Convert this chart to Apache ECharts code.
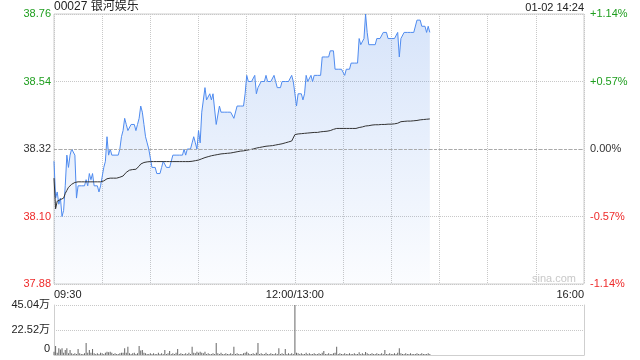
<!DOCTYPE html>
<html><head><meta charset="utf-8">
<script src="https://cdn.jsdelivr.net/npm/echarts@6/dist/echarts.min.js"></script>
<style>html,body{margin:0;padding:0;background:#fff}#c{width:640px;height:360px}</style>
</head><body><div id="c"></div>
<script>
const titleText = '00027 银河娱乐';
const timeStamp = '01-02 14:24';
const prevClose = 38.32;
const axisBase = 37.88;
const leftTicks = ['37.88', '38.10', '38.32', '38.54', '38.76'];
const rightTicks = ['-1.14%', '-0.57%', '0.00%', '+0.57%', '+1.14%'];
const volTicks = ['0', '22.52万', '45.04万'];
const volMax = 45.04; // 万股
const xTickLabels = { 0: '09:30', 150: '12:00/13:00', 330: '16:00' };
const totalMinutes = 330;

// price per minute from 09:30 (index 0) to 14:24 (index 234)
const price = [
38.28,38.16,38.18,38.14,38.16,38.10,38.12,38.20,38.30,38.26,
38.30,38.32,38.32,38.30,38.16,38.20,38.20,38.20,38.20,38.20,
38.22,38.20,38.24,38.22,38.24,38.20,38.20,38.20,38.18,38.20,
38.20,38.26,38.28,38.36,38.30,38.32,38.30,38.30,38.30,38.30,
38.30,38.32,38.36,38.38,38.42,38.40,38.38,38.38,38.40,38.40,
38.40,38.38,38.40,38.42,38.46,38.44,38.40,38.36,38.34,38.32,
38.32,38.26,38.26,38.26,38.24,38.24,38.24,38.26,38.28,38.28,
38.26,38.26,38.26,38.28,38.30,38.30,38.30,38.30,38.30,38.30,
38.30,38.32,38.30,38.32,38.32,38.32,38.34,38.36,38.34,38.32,
38.38,38.34,38.44,38.44,38.52,38.48,38.48,38.50,38.48,38.50,
38.50,38.40,38.40,38.46,38.44,38.44,38.44,38.44,38.44,38.44,
38.44,38.44,38.42,38.42,38.46,38.46,38.46,38.46,38.46,38.50,
38.56,38.54,38.54,38.54,38.54,38.56,38.50,38.52,38.52,38.54,
38.54,38.54,38.56,38.54,38.54,38.54,38.54,38.56,38.54,38.52,
38.52,38.52,38.54,38.54,38.54,38.54,38.54,38.54,38.56,38.54,
38.50,38.46,38.50,38.50,38.50,38.48,38.50,38.56,38.54,38.54,
38.56,38.54,38.56,38.56,38.56,38.56,38.56,38.62,38.62,38.62,
38.62,38.62,38.64,38.64,38.64,38.58,38.58,38.58,38.58,38.58,
38.58,38.56,38.58,38.58,38.58,38.60,38.60,38.60,38.60,38.60,
38.68,38.66,38.66,38.68,38.76,38.70,38.66,38.66,38.66,38.66,
38.66,38.68,38.68,38.68,38.68,38.70,38.70,38.70,38.68,38.68,
38.68,38.68,38.68,38.68,38.70,38.62,38.68,38.68,38.70,38.70,
38.70,38.70,38.70,38.70,38.70,38.70,38.74,38.74,38.74,38.72,
38.72,38.72,38.70,38.72,38.70
];

const avgPrice = [
38.225,38.125,38.150,38.155,38.155,38.155,38.160,38.175,38.185,38.195,
38.200,38.205,38.210,38.211,38.213,38.213,38.213,38.213,38.213,38.213,
38.213,38.213,38.213,38.213,38.213,38.213,38.213,38.213,38.213,38.213,
38.213,38.216,38.220,38.223,38.225,38.225,38.225,38.225,38.225,38.225,
38.225,38.228,38.230,38.232,38.238,38.244,38.249,38.251,38.252,38.253,
38.253,38.254,38.258,38.264,38.271,38.275,38.276,38.277,38.278,38.278,
38.279,38.279,38.279,38.279,38.279,38.279,38.279,38.279,38.279,38.279,
38.279,38.279,38.279,38.279,38.279,38.279,38.279,38.279,38.279,38.279,
38.279,38.279,38.279,38.279,38.279,38.279,38.280,38.281,38.282,38.283,
38.284,38.286,38.288,38.290,38.292,38.294,38.295,38.296,38.298,38.299,
38.300,38.301,38.302,38.303,38.304,38.304,38.305,38.305,38.306,38.306,
38.307,38.308,38.309,38.310,38.311,38.312,38.313,38.313,38.314,38.315,
38.316,38.317,38.318,38.319,38.320,38.322,38.323,38.324,38.325,38.326,
38.327,38.328,38.329,38.329,38.330,38.330,38.331,38.332,38.333,38.334,
38.335,38.336,38.337,38.338,38.340,38.341,38.343,38.345,38.346,38.347,
38.367,38.368,38.369,38.369,38.370,38.370,38.371,38.371,38.372,38.373,
38.373,38.373,38.374,38.374,38.374,38.375,38.376,38.377,38.377,38.378,
38.378,38.379,38.380,38.381,38.384,38.387,38.387,38.387,38.387,38.387,
38.387,38.387,38.387,38.387,38.387,38.387,38.387,38.387,38.387,38.388,
38.390,38.391,38.392,38.393,38.395,38.396,38.396,38.397,38.398,38.398,
38.399,38.399,38.399,38.400,38.400,38.400,38.400,38.400,38.401,38.401,
38.401,38.401,38.402,38.402,38.404,38.407,38.409,38.410,38.410,38.411,
38.411,38.411,38.411,38.412,38.412,38.412,38.413,38.414,38.415,38.415,
38.416,38.417,38.417,38.418,38.418
];

// volume per minute, in 万股
const volume = [
3,8,2,6,5,6,2,4.5,6,1.5,
4.5,1.5,1,1.5,1,5.4,1.5,1,1,1.5,
10.8,2,4.5,2,5.4,1.5,1,1.5,1,2,
1.5,1,2,3,2.5,3,2,1,1.5,1,
1,1.5,2,2,6,2,7.5,1.5,1,1.5,
2,1,1.5,8,4,4.5,2,1.5,1,1,
1.5,1,1.5,1,1,2,1,1.5,1,4.5,
1,1.5,3.6,1,1.5,1,2,5.4,1,1.5,
1,1,1.5,1,2,1,7.5,2,1.5,3,
2,3,2,1.5,3,1,1.5,1,1,1.5,
1,10.8,1.5,1,2,1,1,1.5,1,1,
1.5,1,7.5,1,1.5,1,1,1,1.5,2,
3,1.5,1,1,1.5,1,2,10.8,1,1.5,
1,1,2,1,1,1.5,1,1,1.5,1,
6,1,1.5,1,5.4,1,1.5,1,1.5,1,
45.04,2,1.5,1,1.5,1,1,2,1,1.5,
1,1,1.5,1,1,1.5,1,2,3.6,1,
1,1.5,1,1,1.5,2,7.5,1,1.5,1,
1,1.5,1,1,1.5,1,1,1.5,1,1,
2.5,1,1.5,1,2.7,1.5,1,1,1.5,1,
1,1.5,1,1,1.5,1,4.5,1,1,1.5,
1,1,1.5,1,2,6,1.5,1,1,1.5,
1,1,1.5,1,1,1,1.5,1,1,1.5,
1,1,1,1.5,1
];

const upColor = '#1e9e1e', downColor = '#ee2a2a', flatColor = '#333';
const baseFont = 'Arial, "Liberation Sans", "Noto Sans CJK SC", sans-serif';
const toY = p => (p - axisBase) * 100;
const yMax = 88, yStep = 22;
const tickColor = v => {
  const i = Math.round(v / yStep);
  return i > 2 ? upColor : (i < 2 ? downColor : flatColor);
};

const chart = echarts.init(document.getElementById('c'), null, { renderer: 'canvas' });
chart.setOption({
  animation: false,
  backgroundColor: '#fff',
  textStyle: { fontFamily: baseFont },
  title: [
    { text: titleText, left: 54, top: 1, padding: 0,
      textStyle: { fontSize: 12, fontWeight: 'normal', color: '#222', fontFamily: baseFont } },
    { text: timeStamp, right: 56, top: 2, padding: 0,
      textStyle: { fontSize: 11, fontWeight: 'normal', color: '#222', fontFamily: baseFont } }
  ],
  graphic: [
    { type: 'text', left: 532, top: 273, silent: true,
      style: { text: 'sina.com', fill: '#c8c8c8', font: '11px ' + baseFont } }
  ],
  grid: [
    { left: 54, top: 14, width: 530, height: 270, show: true, borderColor: '#cfcfcf', borderWidth: 1, backgroundColor: 'transparent' },
    { left: 54, top: 305, width: 530, height: 50, show: false }
  ],
  xAxis: [
    { type: 'value', gridIndex: 0, min: 0, max: totalMinutes, interval: 30,
      axisLine: { show: false }, axisTick: { show: false },
      splitLine: { show: true, lineStyle: { type: 'dotted', color: '#c8c8c8' } },
      axisLabel: { formatter: v => xTickLabels[v] || '', color: '#222', fontSize: 11, margin: 5,
        showMinLabel: true, showMaxLabel: true, alignMinLabel: 'left', alignMaxLabel: 'right' } },
    { type: 'value', gridIndex: 1, min: 0, max: totalMinutes, interval: 30,
      axisLine: { show: true, lineStyle: { color: '#cfcfcf' } }, axisTick: { show: false },
      splitLine: { show: false }, axisLabel: { show: false } }
  ],
  yAxis: [
    { type: 'value', gridIndex: 0, min: 0, max: yMax, interval: yStep, position: 'left',
      axisLine: { show: false }, axisTick: { show: false },
      splitLine: { show: true, lineStyle: { type: 'dotted', color: '#c8c8c8' } },
      axisLabel: { formatter: v => leftTicks[Math.round(v / yStep)], color: tickColor, fontSize: 11, margin: 3 } },
    { type: 'value', gridIndex: 0, min: 0, max: yMax, interval: yStep, position: 'right',
      axisLine: { show: false }, axisTick: { show: false }, splitLine: { show: false },
      axisLabel: { formatter: v => rightTicks[Math.round(v / yStep)], color: tickColor, fontSize: 11, margin: 6 } },
    { type: 'value', gridIndex: 1, min: 0, max: volMax, interval: volMax / 2, position: 'left',
      axisLine: { show: true, lineStyle: { color: '#cfcfcf' } }, axisTick: { show: false },
      splitLine: { show: true, lineStyle: { type: 'dotted', color: '#c8c8c8' } },
      axisLabel: { fontSize: 11, color: '#222', margin: 4,
        formatter: v => { const i = Math.round(v / (volMax / 2)); return i === 0 ? '{z|0}' : volTicks[i]; },
        rich: { z: { fontSize: 11, color: '#222', padding: [0, 0, 13, 0] } } } },
    { type: 'value', gridIndex: 1, min: 0, max: volMax, interval: volMax / 2, position: 'right',
      axisLine: { show: true, lineStyle: { color: '#cfcfcf' } }, axisTick: { show: false },
      splitLine: { show: false }, axisLabel: { show: false } }
  ],
  series: [
    { type: 'line', xAxisIndex: 0, yAxisIndex: 0, symbol: 'none', z: 3,
      data: price.map((p, i) => [i, toY(p)]),
      lineStyle: { color: '#4f8bef', width: 1 },
      areaStyle: { origin: 'start', color: new echarts.graphic.LinearGradient(0, 0, 0, 1, [
        { offset: 0, color: 'rgba(74,134,232,0.32)' },
        { offset: 1, color: 'rgba(74,134,232,0.03)' }
      ]) },
      markLine: { silent: true, symbol: 'none', label: { show: false },
        lineStyle: { type: [3, 2], color: '#aaaaaa', width: 1 },
        data: [{ yAxis: toY(prevClose) }] } },
    { type: 'line', xAxisIndex: 0, yAxisIndex: 0, symbol: 'none', z: 4,
      data: avgPrice.map((p, i) => [i, toY(p)]),
      lineStyle: { color: '#333', width: 1 } },
    { type: 'bar', xAxisIndex: 1, yAxisIndex: 2, barWidth: 1,
      data: volume.map((v, i) => [i, v]),
      itemStyle: { color: '#666' } }
  ]
});
</script>
</body></html>
